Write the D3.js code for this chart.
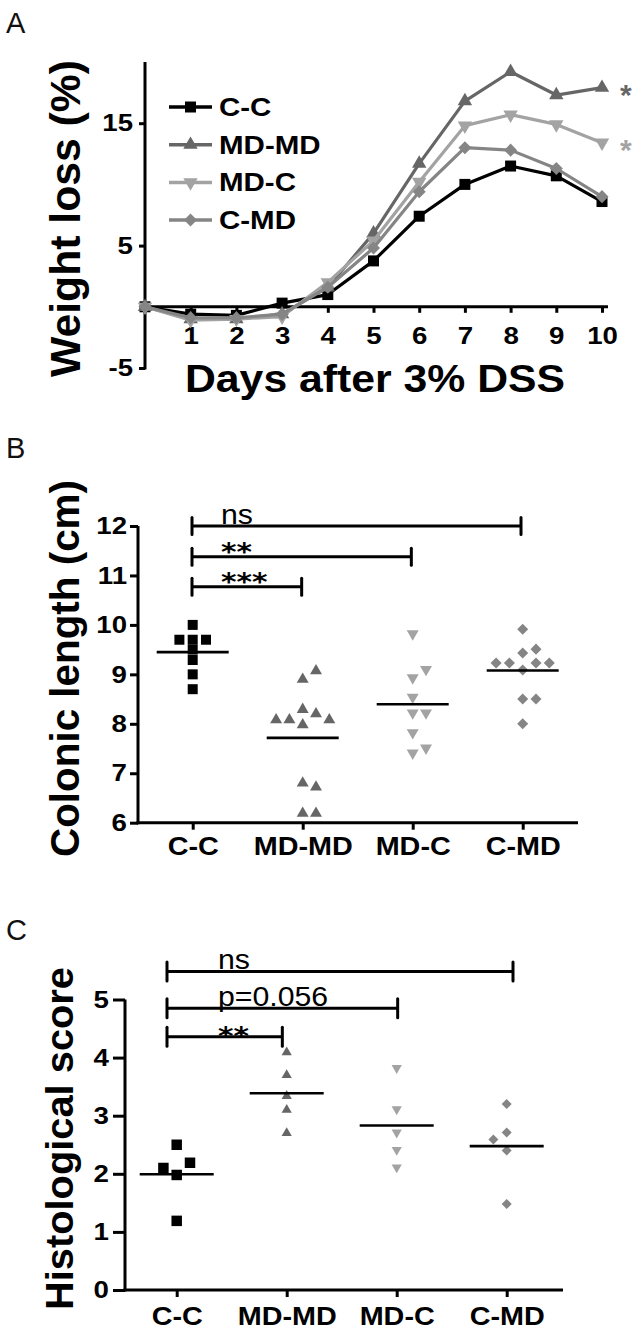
<!DOCTYPE html>
<html><head><meta charset="utf-8">
<script src="https://cdn.jsdelivr.net/npm/d3@7"></script>
<style>
body{margin:0;background:#fff}
svg{display:block}
text{font-family:"Liberation Sans",Arial,sans-serif}
</style>
</head><body>
<svg id="chart" width="643" height="1333"></svg>
<script>
// ---------- DATA ----------
const groups = ["C-C", "MD-MD", "MD-C", "C-MD"];
const groupColors = ["#000000", "#666666", "#a3a3a3", "#858585"];

// Panel A: weight loss (%) by day
const days = [0, 1, 2, 3, 4, 5, 6, 7, 8, 9, 10];
const dayTicks = [1, 2, 3, 4, 5, 6, 7, 8, 9, 10];
const weightTicks = [-5, 5, 15];
const wlCC   = [0, -0.6, -0.7, 0.3, 1.0, 3.75, 7.4, 10.0, 11.5, 10.7, 8.6];
const wlMDMD = [0, -1.0, -1.0, -0.6, 1.6, 6.0, 11.7, 16.8, 19.2, 17.3, 17.9];
const wlMDC  = [0, -1.1, -1.0, -0.8, 2.0, 5.4, 10.2, 14.8, 15.7, 14.9, 13.4];
const wlCMD  = [0, -0.9, -0.9, -0.6, 1.6, 4.8, 9.4, 13.0, 12.8, 11.3, 9.0];
const weightSig = ["", "*", "*", ""];

// Panel B: colonic length (cm)
const colonTicks = [6, 7, 8, 9, 10, 11, 12];
const colonCC   = [10.0, 9.7, 9.7, 9.7, 9.5, 9.29, 9.0, 8.7];
const colonMDMD = [8.9, 9.07, 8.29, 7.98, 8.2, 8.08, 8.08, 8.08, 6.8, 6.72, 6.19, 6.19];
const colonMDC  = [9.82, 8.93, 9.1, 8.54, 8.22, 8.22, 7.82, 7.41, 7.51];
const colonCMD  = [9.91, 9.43, 9.51, 9.09, 9.23, 9.23, 9.23, 9.23, 8.5, 8.5, 8.0];
const colonSigTo    = ["C-MD", "MD-C", "MD-MD"];
const colonSigLevel = [12.0, 11.38, 10.77];
const colonSigLabel = ["ns", "**", "***"];

// Panel C: histological score
const histTicks = [0, 1, 2, 3, 4, 5];
const histCC   = [2.5, 1.98, 2.1, 2.19, 1.19];
const histMDMD = [4.09, 3.7, 3.34, 3.1, 2.7];
const histMDC  = [3.82, 3.11, 2.71, 2.41, 2.11];
const histCMD  = [3.2, 2.71, 2.4, 2.59, 1.48];
const histSigTo    = ["C-MD", "MD-C", "MD-MD"];
const histSigLevel = [5.48, 4.85, 4.36];
const histSigLabel = ["ns", "p=0.056", "**"];

// ---------- HELPERS ----------
const svg = d3.select("#chart");
const diamond = {draw(ctx, size){ const r = Math.sqrt(size/2); ctx.moveTo(0,-r); ctx.lineTo(r,0); ctx.lineTo(0,r); ctx.lineTo(-r,0); ctx.closePath(); }};
const symTypes = [d3.symbolSquare, d3.symbolTriangle, d3.symbolTriangle, diamond];
const symRot = [0, 0, 180, 0];
function sym(i, size){ return d3.symbol().type(symTypes[i]).size(size)(); }
const plainFmt = d => String(d);

function stretch(sel, k){
  sel.each(function(){
    const w = this.getComputedTextLength();
    this.setAttribute("textLength", (w*k).toFixed(1));
    this.setAttribute("lengthAdjust", "spacingAndGlyphs");
  });
}
function setLen(sel, w){
  sel.attr("textLength", w).attr("lengthAdjust", "spacingAndGlyphs");
}
function swarm(values, y, step, thr, order){
  const placed = [];
  return values.map(v => {
    const py = y(v);
    for (const s of order){
      if (!placed.some(p => p.s === s && Math.abs(p.py - py) < thr)){
        placed.push({s, py});
        return {v, dx: s*step};
      }
    }
    return {v, dx: 0};
  });
}
function styleAxis(g, fs, bold){
  g.select(".domain").remove();
  g.selectAll(".tick line").attr("stroke", "#000").attr("stroke-width", 3);
  g.selectAll(".tick text").attr("fill", "#000")
    .style("font-size", fs + "px").style("font-weight", bold ? "bold" : "normal")
    .style("font-family", '"Liberation Sans", Arial, sans-serif');
}
function panelLetter(t, x, y){
  svg.append("text").attr("x", x).attr("y", y).text(t)
    .style("font-size", "29px").style("font-weight", "normal").attr("fill", "#111");
}
function yTitle(t, x, y, fs, len){
  const tx = svg.append("text").attr("transform", `translate(${x},${y}) rotate(-90)`)
    .attr("text-anchor", "middle").text(t)
    .style("font-size", fs + "px").style("font-weight", "bold");
  if (len) setLen(tx, len);
}

// ---------- PANEL A ----------
panelLetter("A", 6, 33);
const xA = d3.scaleLinear().domain([0, 10]).range([145, 602]);
const yA = d3.scaleLinear().domain([-5, 20]).range([368, 62]);
const gA = svg.append("g");
gA.append("line").attr("x1", xA(0)).attr("x2", xA(0)).attr("y1", yA(-5)+1.5).attr("y2", yA(20))
  .attr("stroke", "#000").attr("stroke-width", 3);
gA.append("line").attr("x1", xA(0)-4).attr("x2", xA(10)+6).attr("y1", yA(0)).attr("y2", yA(0))
  .attr("stroke", "#000").attr("stroke-width", 3);
const axYA = gA.append("g").attr("transform", `translate(${xA(0)},0)`)
  .call(d3.axisLeft(yA).tickValues(weightTicks).tickFormat(plainFmt).tickSize(6).tickPadding(6).tickSizeOuter(0));
styleAxis(axYA, 24, true);
const axXA = gA.append("g").attr("transform", `translate(0,${yA(0)})`)
  .call(d3.axisBottom(xA).tickValues(dayTicks).tickFormat(plainFmt).tickSize(6).tickPadding(4).tickSizeOuter(0));
styleAxis(axXA, 24, true);
axXA.selectAll(".tick text").attr("y", 20);
const seriesA = [wlCC, wlMDMD, wlMDC, wlCMD];
const lineA = d3.line().x((d, i) => xA(days[i])).y(d => yA(d));
const sizesA = [121, 90, 90, 85];
seriesA.forEach((s, gi) => {
  gA.append("path").attr("d", lineA(s)).attr("fill", "none")
    .attr("stroke", groupColors[gi]).attr("stroke-width", 3.2).attr("stroke-linejoin", "round");
  gA.selectAll(null).data(s).enter().append("path")
    .attr("d", sym(gi, sizesA[gi]))
    .attr("transform", (d, i) => `translate(${xA(days[i])},${yA(d)}) rotate(${symRot[gi]})`)
    .attr("fill", groupColors[gi]);
  if (weightSig[gi]) {
    gA.append("text").attr("x", xA(10) + 18).attr("y", yA(s[s.length-1]) + 17)
      .text(weightSig[gi]).attr("fill", groupColors[gi])
      .style("font-size", "30px").style("font-weight", "bold");
  }
});
// legend
const legA = gA.append("g");
groups.forEach((g, gi) => {
  const cy = 107 + gi*37.7;
  legA.append("line").attr("x1", 169).attr("x2", 212).attr("y1", cy).attr("y2", cy)
    .attr("stroke", groupColors[gi]).attr("stroke-width", 3.5);
  legA.append("path").attr("d", sym(gi, sizesA[gi]))
    .attr("transform", `translate(190.5,${cy}) rotate(${symRot[gi]})`).attr("fill", groupColors[gi]);
  legA.append("text").attr("class", "leg").attr("x", 219).attr("y", cy + 9).text(g)
    .style("font-size", "25px").style("font-weight", "bold");
});
yTitle("Weight loss (%)", 79.5, 218.5, 42, 317);
const xtA = svg.append("text").attr("x", 375).attr("y", 392).attr("text-anchor", "middle")
  .text("Days after 3% DSS").style("font-size", "39px").style("font-weight", "bold");
setLen(xtA, 380);

// ---------- generic dot-plot panel ----------
function dotPanel(opts){
  const {x, y, xLeft, xRight, ticks, data, sizes, step, thr, order, tickLen, tickPad, catPad,
         sigTo, sigLevel, sigLabel, xBr, labOff, capH, labelFs, meanHalf, starDy} = opts;
  const g = svg.append("g");
  const y0 = y.range()[0], yTop = y.range()[1];
  g.append("line").attr("x1", xLeft).attr("x2", xLeft).attr("y1", y0 + 1.5).attr("y2", yTop)
    .attr("stroke", "#000").attr("stroke-width", 3);
  g.append("line").attr("x1", xLeft - 1.5).attr("x2", xRight).attr("y1", y0).attr("y2", y0)
    .attr("stroke", "#000").attr("stroke-width", 3);
  const ay = g.append("g").attr("transform", `translate(${xLeft},0)`)
    .call(d3.axisLeft(y).tickValues(ticks).tickFormat(plainFmt).tickSize(tickLen).tickPadding(tickPad).tickSizeOuter(0));
  styleAxis(ay, 24, true);
  const ax = g.append("g").attr("transform", `translate(0,${y0})`)
    .call(d3.axisBottom(x).tickSize(7).tickPadding(catPad).tickSizeOuter(0));
  styleAxis(ax, 25, true);
  data.forEach((vals, gi) => {
    const cx = x(groups[gi]);
    const pts = swarm(vals, y, step, thr, order);
    g.selectAll(null).data(pts).enter().append("path")
      .attr("d", sym(gi, sizes[gi]))
      .attr("transform", d => `translate(${cx + d.dx},${y(d.v)}) rotate(${symRot[gi]})`)
      .attr("fill", groupColors[gi]);
    const m = d3.mean(vals);
    g.append("line").attr("x1", cx - meanHalf).attr("x2", cx + meanHalf)
      .attr("y1", y(m)).attr("y2", y(m)).attr("stroke", "#000").attr("stroke-width", 2.6);
  });
  sigTo.forEach((to, i) => {
    const yy = y(sigLevel[i]);
    const x1 = xBr(groups[0]), x2 = xBr(to);
    g.append("line").attr("x1", x1).attr("x2", x2).attr("y1", yy).attr("y2", yy)
      .attr("stroke", "#000").attr("stroke-width", 3);
    [x1, x2].forEach(xx => g.append("line").attr("x1", xx).attr("x2", xx)
      .attr("y1", yy - capH).attr("y2", yy + capH).attr("stroke", "#000").attr("stroke-width", 3)
      .attr("stroke-linecap", "round"));
    const lab = sigLabel[i];
    const isStar = /^\*+$/.test(lab);
    const t = g.append("text").attr("x", x1 + labOff).text(lab)
      .style("font-weight", isStar ? "bold" : "normal");
    if (isStar) {
      t.attr("y", yy + starDy).style("font-size", "25px")
        .style("font-family", '"DejaVu Sans", sans-serif');
      setLen(t, lab.length * 15.5);
    } else {
      t.attr("y", yy - 2.5).style("font-size", labelFs + "px");
    }
    t.attr("class", isStar ? "star" : "siglab");
  });
  return g;
}

// ---------- PANEL B ----------
panelLetter("B", 6, 458);
const xB = d3.scalePoint().domain(groups).range([192.7, 522.7]);
const yB = d3.scaleLinear().domain([6, 12]).range([822.7, 526]);
dotPanel({x: xB, y: yB, xLeft: 138, xRight: 578, ticks: colonTicks,
  data: [colonCC, colonMDMD, colonMDC, colonCMD], sizes: [100, 62, 62, 61],
  step: 13.3, thr: 9, order: [0, 1, -1, 2, -2, 3, -3], tickLen: 8, tickPad: 3, catPad: 8,
  sigTo: colonSigTo, sigLevel: colonSigLevel, sigLabel: colonSigLabel,
  xBr: d3.scalePoint().domain(groups).range([192, 521]), labOff: 29, capH: 8.5, labelFs: 27,
  meanHalf: 36, starDy: 3});
yTitle("Colonic length (cm)", 79, 668.5, 40, 377);

// ---------- PANEL C ----------
panelLetter("C", 6, 940);
const xC = d3.scalePoint().domain(groups).range([176.7, 506.7]);
const yC = d3.scaleLinear().domain([0, 5]).range([1290, 999.5]);
dotPanel({x: xC, y: yC, xLeft: 125, xRight: 563, ticks: histTicks,
  data: [histCC, histMDMD, histMDC, histCMD], sizes: [110, 45, 45, 50],
  step: 13.3, thr: 13, order: [0, -1, 1, -2, 2, -3, 3], tickLen: 12, tickPad: 4, catPad: 10,
  sigTo: histSigTo, sigLevel: histSigLevel, sigLabel: histSigLabel,
  xBr: d3.scalePoint().domain(groups).range([167, 513]), labOff: 51, capH: 9.5, labelFs: 27,
  meanHalf: 37, starDy: 7});
yTitle("Histological score", 73, 1138.5, 38, 343);

// horizontal stretch of small labels to match the reference's wide lettering
stretch(svg.selectAll(".tick text"), 1.15);
stretch(svg.selectAll("text.leg"), 1.18);
stretch(svg.selectAll("text.siglab"), 1.12);
</script>
</body></html>
